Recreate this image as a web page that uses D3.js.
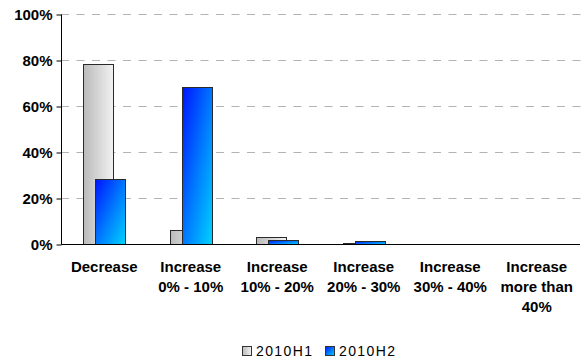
<!DOCTYPE html>
<html>
<head>
<meta charset="utf-8">
<script src="https://cdn.jsdelivr.net/npm/d3@7"></script>
<style>
  body { margin: 0; background: #fff; }
  svg { display: block; font-family: "Liberation Sans", Arial, sans-serif; }
</style>
</head>
<body>
<svg id="chart" width="582" height="360"></svg>
<script>
// Share of respondents per change bracket, two half-years
const categories = [
  ["Decrease"],
  ["Increase", "0% - 10%"],
  ["Increase", "10% - 20%"],
  ["Increase", "20% - 30%"],
  ["Increase", "30% - 40%"],
  ["Increase", "more than", "40%"]
];
const seriesNames = ["2010H1", "2010H2"];
const values2010H1 = [78.3, 6, 3, 0.6, 0, 0];
const values2010H2 = [28.3, 68.2, 1.8, 1.2, 0, 0];
const yTicks = [0, 20, 40, 60, 80, 100];

const svg = d3.select("#chart");
const W = 582;
const plotLeft = 61, plotW = 519, plotTop = 14, plotBottom = 244;

const x = d3.scaleBand().domain(d3.range(categories.length))
  .range([plotLeft, plotLeft + plotW]);
const y = d3.scaleLinear().domain([0, 100]).range([plotBottom, plotTop]);

// bar gradients
const defs = svg.append("defs");
const g1 = defs.append("linearGradient").attr("id", "grayGrad")
  .attr("x1", "0").attr("y1", "0").attr("x2", "1").attr("y2", "0");
g1.append("stop").attr("offset", "0").attr("stop-color", "#bababa");
g1.append("stop").attr("offset", "1").attr("stop-color", "#f2f2f2");
const g2 = defs.append("linearGradient").attr("id", "blueGrad")
  .attr("x1", "0").attr("y1", "0").attr("x2", "1").attr("y2", "1");
g2.append("stop").attr("offset", "0").attr("stop-color", "#0014ff");
g2.append("stop").attr("offset", "0.55").attr("stop-color", "#0080ff");
g2.append("stop").attr("offset", "1").attr("stop-color", "#00d4ff");
const fills = ["url(#grayGrad)", "url(#blueGrad)"];

// gridlines
svg.append("g").selectAll("line").data(yTicks.filter(t => t > 0)).join("line")
  .attr("x1", plotLeft).attr("x2", W)
  .attr("y1", d => Math.round(y(d)) + 0.5).attr("y2", d => Math.round(y(d)) + 0.5)
  .attr("stroke", "#b3b3b3").attr("stroke-width", 1).attr("stroke-dasharray", "8,7.5");

// bars: two overlapping columns per category
const barW = 30, offset = 12;
const series = [values2010H1, values2010H2];
series.forEach((vals, si) => {
  svg.append("g").selectAll("rect").data(vals).join("rect")
    .filter(d => d > 0)
    .attr("x", (d, i) => {
      const c = x(i) + x.bandwidth() / 2;
      return Math.round(c - (barW + offset) / 2 + si * offset) + 0.5;
    })
    .attr("y", d => Math.round(y(d)) + 0.5)
    .attr("width", barW)
    .attr("height", d => Math.max(0, Math.round(y(0)) - Math.round(y(d))))
    .attr("fill", fills[si])
    .attr("stroke", "#2a2a2a").attr("stroke-width", 1);
});

// y axis
const yAxis = d3.axisLeft(y).tickValues(yTicks).tickFormat(d => d + "%")
  .tickSize(5).tickPadding(4);
const ya = svg.append("g").attr("transform", `translate(${plotLeft + 0.5},0.5)`).call(yAxis);
ya.select(".domain").attr("stroke", "#000").attr("d", `M0,${Math.round(y(100))}V${Math.round(y(0))}`);
ya.selectAll(".tick line").attr("stroke", "#000");
ya.selectAll(".tick text").attr("font-size", 15).attr("font-weight", "bold")
  .attr("fill", "#000").attr("font-family", "Liberation Sans, Arial, sans-serif");

// x axis baseline
svg.append("line").attr("x1", plotLeft).attr("x2", plotLeft + plotW)
  .attr("y1", Math.round(y(0)) + 0.5).attr("y2", Math.round(y(0)) + 0.5)
  .attr("stroke", "#000");

// category labels
const xl = svg.append("g");
categories.forEach((lines, i) => {
  const cx = x(i) + x.bandwidth() / 2;
  const t = xl.append("text")
    .attr("x", cx).attr("y", 272)
    .attr("text-anchor", "middle")
    .attr("font-size", 15).attr("font-weight", "bold").attr("fill", "#000");
  lines.forEach((ln, k) => {
    t.append("tspan").attr("x", cx).attr("dy", k === 0 ? 0 : 20).text(ln);
  });
});

// legend
const legend = svg.append("g").attr("transform", "translate(242,346)");
const legendX = [0, 83];
seriesNames.forEach((name, i) => {
  const g = legend.append("g").attr("transform", `translate(${legendX[i]},0)`);
  g.append("rect").attr("x", 0.5).attr("y", 0.5).attr("width", 9).attr("height", 9)
    .attr("fill", fills[i]).attr("stroke", "#333");
  g.append("text").attr("x", 14).attr("y", 10).attr("font-size", 14)
    .attr("letter-spacing", 1.4).attr("fill", "#000").text(name);
});
</script>
</body>
</html>
